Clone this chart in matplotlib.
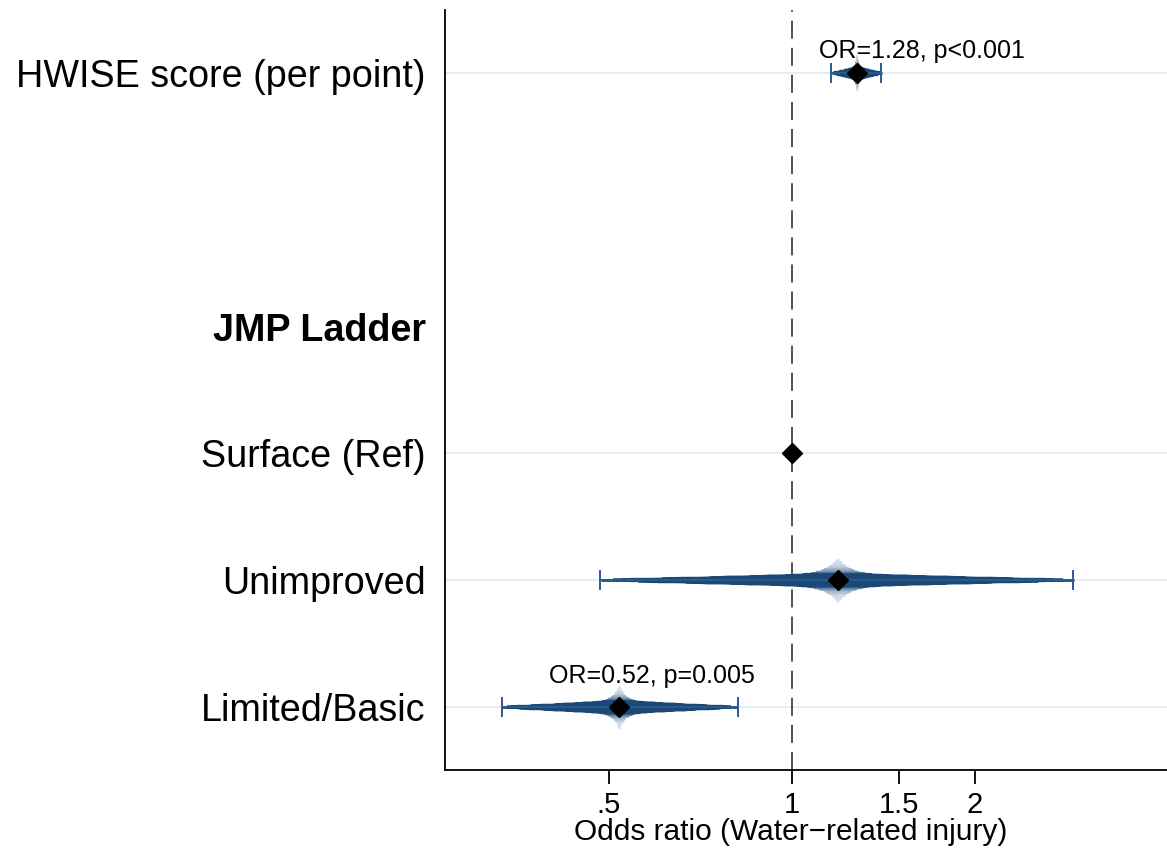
import numpy as np
import matplotlib
matplotlib.use('Agg')
import matplotlib.pyplot as plt
from matplotlib.colors import to_rgb
from statistics import NormalDist

plt.rcParams['font.family'] = ['Liberation Sans', 'DejaVu Sans']

# rows from top to bottom (JMP Ladder is a header row with no estimate)
labels = ['HWISE score (per point)', 'JMP Ladder', 'Surface (Ref)', 'Unimproved', 'Limited/Basic']
ypos = [6, 4, 3, 2, 1]

# estimates: OR, lower 95% CI, upper 95% CI (None for reference)
est_y = [6, 3, 2, 1]
odds = [1.28, 1.0, 1.19, 0.52]
ci_lo = [1.16, None, 0.484, 0.334]
ci_hi = [1.40, None, 2.90, 0.816]

notes = ['OR=1.28, p<0.001', 'OR=0.52, p=0.005']
note_x = [1.636, 0.590]
note_y = [6.118, 1.19]

xticks = [0.5, 1, 1.5, 2]
xticklabels = ['.5', '1', '1.5', '2']

dark = np.array(to_rgb('#1b4877'))
light = np.array(to_rgb('#d3dee9'))
capcol = '#2b5b8a'

fig = plt.figure(figsize=(11.67, 8.56), dpi=100)
ax = fig.add_axes([445/1167, 1 - 770/856, 1 - 445/1167, 760/856])

# light gridlines on the rows that carry an estimate
for y in est_y:
    ax.axhline(y, color='#e3eef1', lw=1.5, zorder=0)

ax.axvline(1, color='#444444', lw=1.3, dashes=(10, 5), zorder=1)


def smooth_ci(y, b, lo, hi):
    # many nested CIs: narrow ones thick and pale, wide ones thin and dark
    lb, llo, lhi = np.log(b), np.log(lo), np.log(hi)
    se = (lhi - llo) / (2 * 1.96)
    for p in np.linspace(0.01, 0.95, 80):
        z = NormalDist().inv_cdf((1 + p) / 2)
        t = np.clip((p - 0.04) / 0.2, 0, 1)
        col = light + (dark - light) * t
        lw = 2 + 8 * (1 - p / 0.95) ** 0.6 + 24 * (1 - p) ** 12
        ax.plot([np.exp(lb - z * se), np.exp(lb + z * se)], [y, y],
                color=col, lw=lw, solid_capstyle='butt', zorder=2)
    ax.errorbar(b, y, xerr=[[b - lo], [hi - b]], fmt='none', ecolor=capcol,
                elinewidth=1.4, capsize=7, capthick=1.4, zorder=3)


for y, b, lo, hi in zip(est_y, odds, ci_lo, ci_hi):
    if lo is not None:
        smooth_ci(y, b, lo, hi)
    ax.plot(b, y, marker='D', color='black', ms=10, zorder=4, ls='none')

for t, x, y in zip(notes, note_x, note_y):
    ax.text(x, y, t, ha='center', va='baseline', fontsize=18, zorder=5)

ax.set_xscale('log')
ax.set_xlim(0.269, 4.14)
ax.set_ylim(0.5, 6.5)
ax.set_xticks(xticks)
ax.set_xticklabels(xticklabels, fontsize=21)
ax.xaxis.set_minor_locator(matplotlib.ticker.NullLocator())
ax.set_yticks(ypos)
ax.set_yticklabels(labels, fontsize=27.2)
ax.get_yticklabels()[1].set_fontweight('bold')
ax.tick_params(axis='y', length=0, pad=14)
ax.tick_params(axis='x', length=10, width=1.3, pad=5)
ax.set_xlabel('Odds ratio (Water\u2212related injury)', fontsize=21.5)
ax.xaxis.label.set_va('baseline')
ax.xaxis.set_label_coords((791 - 445) / 722, (770 - 840) / 760)

for s in ['top', 'right']:
    ax.spines[s].set_visible(False)
for s in ['left', 'bottom']:
    ax.spines[s].set_linewidth(1.3)

fig.savefig('out.png', dpi=100)
